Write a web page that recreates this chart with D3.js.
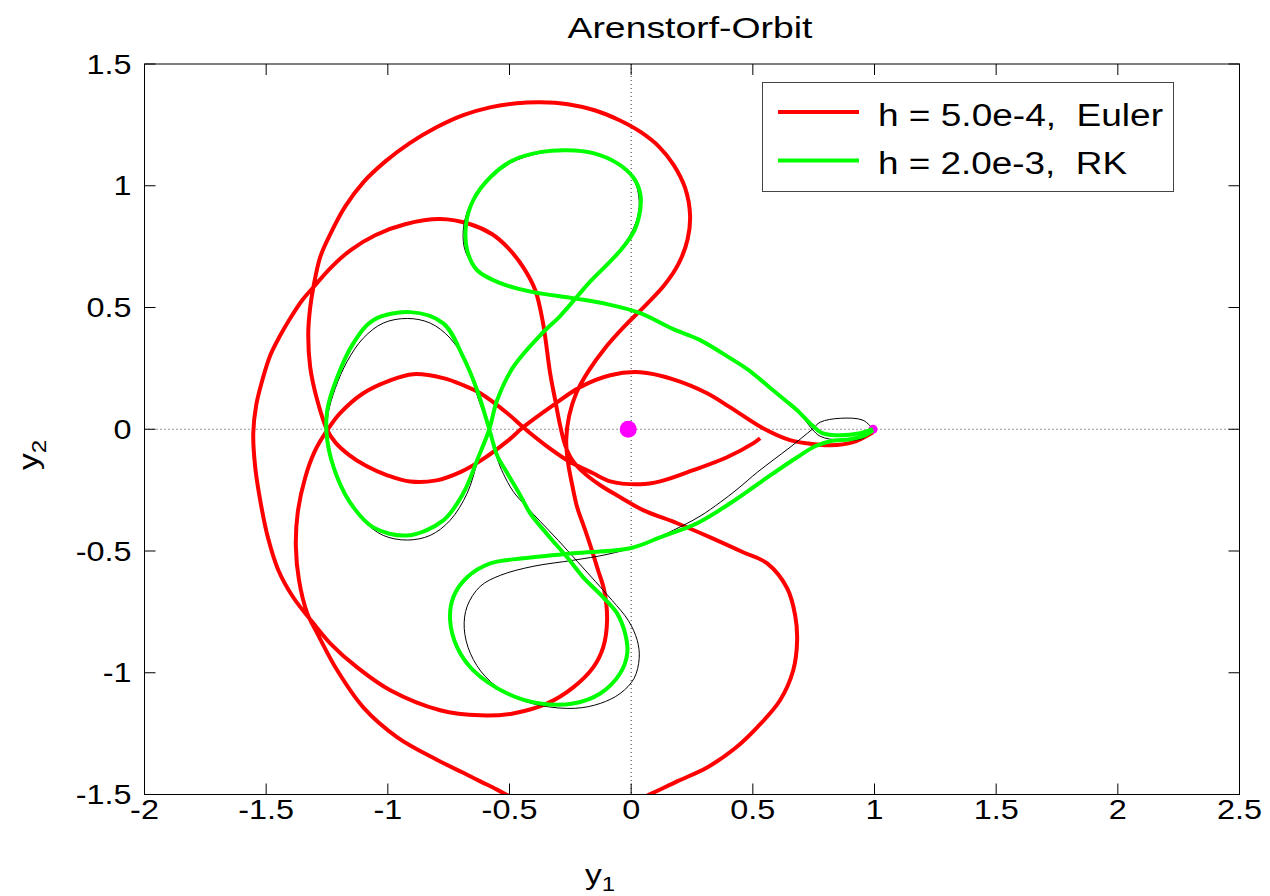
<!DOCTYPE html>
<html>
<head>
<meta charset="utf-8">
<script src="https://cdn.jsdelivr.net/npm/d3@7"></script>
<style>
  body { margin: 0; background: #fff; }
  text { font-family: "Liberation Sans", Arial, sans-serif; }
</style>
</head>
<body>
<div id="chart"></div>
<script>
// tick values
var xTicks = [-2, -1.5, -1, -0.5, 0, 0.5, 1, 1.5, 2, 2.5];
var yTicks = [-1.5, -1, -0.5, 0, 0.5, 1, 1.5];

// Euler solution, h = 5.0e-4
var eulerOrbit = [
  [0.994,-0.012],[0.912,-0.053],[0.818,-0.066],[0.723,-0.058],[0.653,-0.045],[0.542,0.004],
  [0.407,0.090],[0.312,0.148],[0.173,0.205],[0.037,0.234],[-0.086,0.222],[-0.210,0.173],
  [-0.320,0.099],[-0.444,0.008],[-0.510,-0.050],[-0.620,-0.130],[-0.700,-0.175],[-0.800,-0.210],
  [-0.908,-0.215],[-1.000,-0.190],[-1.090,-0.150],[-1.160,-0.105],[-1.215,-0.055],[-1.249,-0.004],
  [-1.290,0.119],[-1.319,0.255],[-1.327,0.394],[-1.319,0.501],[-1.306,0.583],[-1.278,0.707],
  [-1.237,0.800],[-1.175,0.915],[-1.100,1.015],[-1.010,1.100],[-0.910,1.175],[-0.800,1.240],
  [-0.690,1.290],[-0.580,1.322],[-0.470,1.339],[-0.374,1.343],[-0.260,1.335],[-0.150,1.310],
  [-0.050,1.270],[0.040,1.220],[0.115,1.160],[0.175,1.085],[0.222,0.990],[0.242,0.880],
  [0.232,0.780],[0.195,0.680],[0.135,0.590],[0.060,0.510],[-0.030,0.420],[-0.110,0.330],
  [-0.175,0.240],[-0.225,0.150],[-0.255,0.055],[-0.267,-0.045],[-0.259,-0.140],[-0.242,-0.230],
  [-0.222,-0.320],[-0.193,-0.403],[-0.168,-0.477],[-0.136,-0.579],[-0.111,-0.661],[-0.099,-0.785],
  [-0.115,-0.896],[-0.156,-0.978],[-0.238,-1.060],[-0.345,-1.126],[-0.485,-1.167],[-0.620,-1.175],
  [-0.785,-1.154],[-0.990,-1.072],[-1.126,-0.978],[-1.237,-0.879],[-1.306,-0.797],[-1.389,-0.690],
  [-1.450,-0.579],[-1.493,-0.444],[-1.523,-0.300],[-1.545,-0.156],[-1.553,-0.016],[-1.541,0.099],
  [-1.516,0.201],[-1.483,0.304],[-1.442,0.386],[-1.401,0.456],[-1.352,0.530],[-1.306,0.583],
  [-1.237,0.661],[-1.154,0.735],[-1.052,0.797],[-0.929,0.842],[-0.785,0.863],[-0.661,0.842],
  [-0.571,0.801],[-0.509,0.748],[-0.444,0.666],[-0.394,0.571],[-0.362,0.435],[-0.333,0.230],
  [-0.312,0.119],[-0.292,0.016],[-0.271,-0.066],[-0.242,-0.127],[-0.201,-0.173],[-0.127,-0.230],
  [-0.045,-0.279],[0.049,-0.332],[0.189,-0.386],[0.325,-0.444],[0.460,-0.505],[0.559,-0.551],
  [0.641,-0.653],[0.674,-0.764],[0.682,-0.867],[0.666,-0.990],[0.612,-1.113],[0.518,-1.224],
  [0.427,-1.310],[0.312,-1.389],[0.189,-1.446],[0.066,-1.504],[-0.045,-1.545],[-0.168,-1.565],
  [-0.292,-1.557],[-0.394,-1.536],[-0.489,-1.512],[-0.551,-1.480],[-0.620,-1.446],[-0.690,-1.411],
  [-0.797,-1.358],[-0.961,-1.265],[-1.101,-1.142],[-1.208,-0.990],[-1.290,-0.838],[-1.331,-0.756],
  [-1.365,-0.620],[-1.378,-0.480],[-1.370,-0.340],[-1.340,-0.200],[-1.300,-0.090],[-1.249,-0.004],
  [-1.196,0.066],[-1.101,0.148],[-0.990,0.201],[-0.896,0.226],[-0.772,0.210],[-0.690,0.181],
  [-0.620,0.148],[-0.509,0.066],[-0.444,0.008],[-0.362,-0.058],[-0.263,-0.127],[-0.156,-0.181],
  [-0.086,-0.214],[0.037,-0.226],[0.119,-0.214],[0.255,-0.168],[0.394,-0.115],[0.501,-0.058],
  [0.530,-0.037]
];

// Runge-Kutta solution, h = 2.0e-3
var rkOrbit = [
  [0.994,0],[0.941,-0.016],[0.859,-0.025],[0.785,-0.016],[0.744,0.016],[0.682,0.078],
  [0.633,0.119],[0.583,0.160],[0.530,0.205],[0.477,0.247],[0.407,0.292],[0.283,0.366],
  [0.173,0.411],[0.037,0.477],[-0.099,0.514],[-0.238,0.538],[-0.403,0.563],[-0.538,0.600],
  [-0.633,0.653],[-0.674,0.735],[-0.678,0.846],[-0.649,0.941],[-0.579,1.035],[-0.485,1.105],
  [-0.374,1.138],[-0.263,1.146],[-0.156,1.134],[-0.058,1.093],[0.008,1.035],[0.037,0.970],
  [0.037,0.900],[0.015,0.820],[-0.035,0.745],[-0.100,0.675],[-0.165,0.610],[-0.222,0.545],
  [-0.292,0.465],[-0.374,0.386],[-0.485,0.255],[-0.551,0.119],[-0.583,0],[-0.633,-0.127],
  [-0.690,-0.263],[-0.772,-0.374],[-0.920,-0.436],[-1.060,-0.403],[-1.142,-0.320],[-1.208,-0.197],
  [-1.249,-0.045],[-1.249,0.078],[-1.208,0.214],[-1.142,0.353],[-1.060,0.448],[-0.908,0.481],
  [-0.772,0.435],[-0.690,0.296],[-0.633,0.160],[-0.583,0],[-0.551,-0.107],[-0.509,-0.181],
  [-0.456,-0.271],[-0.415,-0.345],[-0.341,-0.436],[-0.263,-0.526],[-0.197,-0.608],[-0.115,-0.690],
  [-0.058,-0.756],[-0.025,-0.838],[-0.016,-0.920],[-0.045,-1.002],[-0.127,-1.085],[-0.238,-1.126],
  [-0.374,-1.126],[-0.509,-1.085],[-0.649,-0.990],[-0.715,-0.896],[-0.744,-0.785],[-0.731,-0.690],
  [-0.674,-0.608],[-0.579,-0.551],[-0.444,-0.530],[-0.238,-0.509],[-0.004,-0.489],[0.119,-0.444],
  [0.271,-0.386],[0.407,-0.304],[0.542,-0.210],[0.682,-0.115],[0.756,-0.070],[0.818,-0.049],
  [0.900,-0.041],[0.961,-0.025],[0.994,-0.004]
];

// exact periodic orbit
var exactOrbit = [
  [0.994,0],[0.953,-0.037],[0.859,-0.045],[0.777,-0.029],[0.744,0],[0.715,0.037],
  [0.682,0.078],[0.633,0.119],[0.583,0.160],[0.530,0.205],[0.477,0.247],[0.407,0.292],
  [0.283,0.362],[0.173,0.413],[0.037,0.477],[-0.099,0.514],[-0.238,0.538],[-0.403,0.563],
  [-0.538,0.600],[-0.625,0.645],[-0.680,0.727],[-0.690,0.818],[-0.663,0.920],[-0.600,1.015],
  [-0.497,1.093],[-0.374,1.134],[-0.230,1.146],[-0.127,1.126],[-0.045,1.085],[0.012,1.023],
  [0.033,0.941],[0.025,0.867],[-0.012,0.785],[-0.078,0.703],[-0.148,0.624],[-0.222,0.542],
  [-0.300,0.456],[-0.374,0.378],[-0.436,0.312],[-0.485,0.255],[-0.526,0.181],[-0.551,0.119],
  [-0.583,0],
  [-0.629,-0.127],[-0.674,-0.263],[-0.744,-0.374],[-0.826,-0.436],[-0.920,-0.455],[-1.019,-0.436],
  [-1.101,-0.374],[-1.167,-0.279],[-1.216,-0.168],[-1.245,-0.066],[-1.249,0],[-1.245,0.066],
  [-1.216,0.168],[-1.167,0.279],[-1.101,0.374],[-1.019,0.436],[-0.920,0.455],[-0.826,0.436],
  [-0.744,0.374],[-0.674,0.263],[-0.629,0.127],[-0.583,0],
  [-0.551,-0.119],[-0.526,-0.181],[-0.485,-0.255],[-0.436,-0.312],[-0.374,-0.378],[-0.300,-0.456],
  [-0.222,-0.542],[-0.148,-0.624],[-0.078,-0.703],[-0.012,-0.785],[0.025,-0.867],[0.033,-0.941],
  [0.012,-1.023],[-0.045,-1.085],[-0.127,-1.126],[-0.230,-1.146],[-0.374,-1.134],[-0.497,-1.093],
  [-0.600,-1.015],[-0.661,-0.920],[-0.686,-0.818],[-0.674,-0.727],[-0.620,-0.645],[-0.538,-0.600],
  [-0.403,-0.563],[-0.238,-0.538],[-0.099,-0.514],[0.037,-0.477],[0.173,-0.415],[0.283,-0.357],
  [0.366,-0.300],[0.435,-0.247],[0.518,-0.177],[0.583,-0.127],[0.653,-0.074],[0.744,0],
  [0.777,0.029],[0.859,0.045],[0.953,0.037],[0.994,0]
];

var earth = [-0.012, 0];
var moon = [0.994, 0];
var legendLabels = ["h = 5.0e-4,  Euler", "h = 2.0e-3,  RK"];
var legendColors = ["#ff0000", "#00ff00"];

var W = 1270, H = 896;
var pLeft = 144.5, pRight = 1239.5, pTop = 64, pBottom = 794.5;

var svg = d3.select("#chart")
    .append("svg")
    .attr("width", W)
    .attr("height", H);

var x = d3.scaleLinear().domain([-2, 2.5]).range([pLeft, pRight]);
var y = d3.scaleLinear().domain([-1.5, 1.5]).range([pBottom, pTop]);

svg.append("clipPath").attr("id", "plotclip")
    .append("rect")
    .attr("x", pLeft).attr("y", pTop)
    .attr("width", pRight - pLeft).attr("height", pBottom - pTop);

var plot = svg.append("g").attr("clip-path", "url(#plotclip)");

// dotted zero lines
plot.append("line")
    .attr("x1", x(0)).attr("x2", x(0)).attr("y1", pTop).attr("y2", pBottom)
    .style("stroke", "#333").style("stroke-width", 1).style("stroke-dasharray", "1,3");
plot.append("line")
    .attr("x1", pLeft).attr("x2", pRight).attr("y1", y(0)).attr("y2", y(0))
    .style("stroke", "#333").style("stroke-width", 1).style("stroke-dasharray", "1,3");

var line = d3.line()
    .x(function(d) { return x(d[0]); })
    .y(function(d) { return y(d[1]); })
    .curve(d3.curveCatmullRom.alpha(0.5));

plot.append("path")
    .attr("d", line(eulerOrbit))
    .style("fill", "none").style("stroke", "#ff0000").style("stroke-width", 4)
    .style("stroke-linejoin", "round");

plot.append("path")
    .attr("d", line(exactOrbit))
    .style("fill", "none").style("stroke", "#000").style("stroke-width", 1);

plot.append("circle")
    .attr("cx", x(moon[0])).attr("cy", y(moon[1])).attr("r", 4.5)
    .style("fill", "#ff00ff");

plot.append("path")
    .attr("d", line(rkOrbit))
    .style("fill", "none").style("stroke", "#00ff00").style("stroke-width", 4)
    .style("stroke-linejoin", "round");

plot.append("circle")
    .attr("cx", x(earth[0])).attr("cy", y(earth[1])).attr("r", 8.5)
    .style("fill", "#ff00ff");

// frame and ticks (inside, on all four sides)
svg.append("rect")
    .attr("x", pLeft).attr("y", pTop)
    .attr("width", pRight - pLeft).attr("height", pBottom - pTop)
    .style("fill", "none").style("stroke", "#000").style("stroke-width", 1);

var tickLen = 11;
xTicks.forEach(function(t) {
    svg.append("line").attr("x1", x(t)).attr("x2", x(t)).attr("y1", pBottom).attr("y2", pBottom - tickLen)
        .style("stroke", "#000");
    svg.append("line").attr("x1", x(t)).attr("x2", x(t)).attr("y1", pTop).attr("y2", pTop + tickLen)
        .style("stroke", "#000");
    svg.append("text")
        .attr("transform", "translate(" + x(t) + "," + (pBottom + 24) + ") scale(1.2,1)")
        .attr("text-anchor", "middle")
        .attr("font-size", 27)
        .text(t);
});
yTicks.forEach(function(t) {
    svg.append("line").attr("x1", pLeft).attr("x2", pLeft + tickLen).attr("y1", y(t)).attr("y2", y(t))
        .style("stroke", "#000");
    svg.append("line").attr("x1", pRight).attr("x2", pRight - tickLen).attr("y1", y(t)).attr("y2", y(t))
        .style("stroke", "#000");
    svg.append("text")
        .attr("transform", "translate(" + (pLeft - 13) + "," + (y(t) + 9.5) + ") scale(1.2,1)")
        .attr("text-anchor", "end")
        .attr("font-size", 27)
        .text(t);
});

// title
svg.append("text")
    .attr("x", 690).attr("y", 38)
    .attr("text-anchor", "middle")
    .attr("font-size", 30)
    .attr("textLength", 245).attr("lengthAdjust", "spacingAndGlyphs")
    .text("Arenstorf-Orbit");

// axis labels
var xl = svg.append("text")
    .attr("transform", "translate(585,884) scale(1.2,1)")
    .attr("font-size", 28);
xl.append("tspan").text("y");
xl.append("tspan").attr("font-size", 20).attr("dy", 7).text("1");

var yl = svg.append("text")
    .attr("transform", "translate(38,470) rotate(-90) scale(1.2,1)")
    .attr("font-size", 28);
yl.append("tspan").text("y");
yl.append("tspan").attr("font-size", 20).attr("dy", 8).text("2");

// legend
var lg = svg.append("g");
lg.append("rect")
    .attr("x", 762.5).attr("y", 82.5).attr("width", 411).attr("height", 109)
    .style("fill", "#fff").style("stroke", "#444").style("stroke-width", 1);
var legendWidths = [285, 249];
legendLabels.forEach(function(lab, i) {
    var ly = 112 + i * 48.5;
    lg.append("line")
        .attr("x1", 778).attr("x2", 859).attr("y1", ly).attr("y2", ly)
        .style("stroke", legendColors[i]).style("stroke-width", 4);
    lg.append("text")
        .attr("x", 878).attr("y", ly + 13.5)
        .attr("font-size", 31)
        .attr("textLength", legendWidths[i]).attr("lengthAdjust", "spacingAndGlyphs")
        .style("white-space", "pre")
        .text(lab);
});
</script>
</body>
</html>
